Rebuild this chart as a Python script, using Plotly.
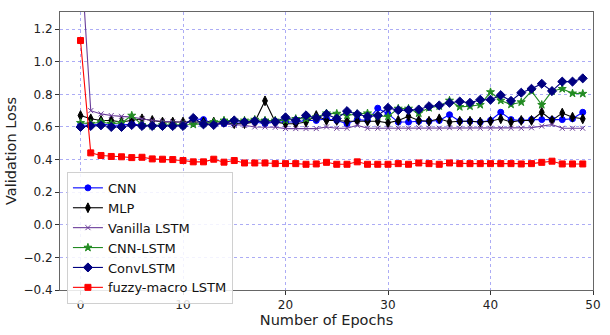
import plotly.graph_objects as go

epochs = list(range(50))

cnn = [0.61, 0.61, 0.62, 0.61, 0.61, 0.62, 0.61, 0.61, 0.61, 0.61,
       0.61, 0.65, 0.645, 0.62, 0.62, 0.62, 0.63, 0.63, 0.62, 0.63,
       0.63, 0.63, 0.64, 0.64, 0.65, 0.64, 0.62, 0.645, 0.64, 0.715,
       0.68, 0.63, 0.63, 0.635, 0.635, 0.64, 0.675, 0.635, 0.635, 0.63,
       0.64, 0.69, 0.645, 0.64, 0.645, 0.645, 0.645, 0.645, 0.65, 0.69]

mlp = [0.67, 0.65, 0.64, 0.64, 0.63, 0.64, 0.65, 0.64, 0.63, 0.63,
       0.63, 0.63, 0.63, 0.63, 0.63, 0.62, 0.62, 0.63, 0.76, 0.63,
       0.62, 0.62, 0.63, 0.67, 0.64, 0.64, 0.635, 0.635, 0.635, 0.635,
       0.625, 0.64, 0.665, 0.64, 0.635, 0.65, 0.63, 0.635, 0.635, 0.63,
       0.635, 0.65, 0.63, 0.64, 0.64, 0.69, 0.64, 0.685, 0.66, 0.65]

vanilla_lstm = [1.70, 0.70, 0.68, 0.67, 0.665, 0.66, 0.65, 0.64, 0.635, 0.632,
                0.628, 0.622, 0.62, 0.618, 0.616, 0.61, 0.61, 0.60, 0.60, 0.598,
                0.59, 0.59, 0.59, 0.59, 0.60, 0.592, 0.592, 0.61, 0.592, 0.592,
                0.592, 0.592, 0.592, 0.595, 0.592, 0.592, 0.595, 0.592, 0.592, 0.592,
                0.592, 0.592, 0.592, 0.592, 0.595, 0.605, 0.615, 0.592, 0.592, 0.592]

cnn_lstm = [0.625, 0.62, 0.63, 0.62, 0.625, 0.67, 0.612, 0.607, 0.612, 0.612,
            0.612, 0.615, 0.62, 0.63, 0.64, 0.64, 0.64, 0.645, 0.64, 0.64,
            0.64, 0.65, 0.65, 0.66, 0.684, 0.682, 0.67, 0.68, 0.684, 0.668,
            0.664, 0.713, 0.713, 0.684, 0.717, 0.728, 0.762, 0.723, 0.727, 0.736,
            0.814, 0.762, 0.738, 0.752, 0.82, 0.736, 0.82, 0.834, 0.806, 0.804]

conv_lstm = [0.60, 0.606, 0.61, 0.60, 0.60, 0.612, 0.606, 0.606, 0.606, 0.606,
             0.606, 0.655, 0.616, 0.612, 0.626, 0.64, 0.63, 0.636, 0.63, 0.632,
             0.659, 0.64, 0.671, 0.655, 0.678, 0.651, 0.697, 0.678, 0.664, 0.670,
             0.717, 0.703, 0.703, 0.707, 0.727, 0.732, 0.748, 0.756, 0.748, 0.767,
             0.767, 0.795, 0.76, 0.81, 0.834, 0.865, 0.82, 0.878, 0.878, 0.898]

fuzzy_macro_lstm = [1.13, 0.441, 0.425, 0.419, 0.417, 0.412, 0.414, 0.404, 0.402, 0.400,
                    0.394, 0.386, 0.386, 0.402, 0.384, 0.394, 0.379, 0.379, 0.379, 0.375,
                    0.375, 0.375, 0.371, 0.373, 0.383, 0.371, 0.371, 0.386, 0.371, 0.371,
                    0.371, 0.375, 0.371, 0.379, 0.375, 0.371, 0.379, 0.375, 0.375, 0.375,
                    0.375, 0.375, 0.375, 0.373, 0.375, 0.383, 0.390, 0.373, 0.373, 0.373]

series = [
    ("CNN", cnn, "#0000ff", "circle", 6),
    ("MLP", mlp, "#000000", "diamond-tall", 7),
    ("Vanilla LSTM", vanilla_lstm, "#6a3d9a", "x-thin-open", 5),
    ("CNN-LSTM", cnn_lstm, "#228b22", "star", 6),
    ("ConvLSTM", conv_lstm, "#000080", "diamond", 7),
    ("fuzzy-macro LSTM", fuzzy_macro_lstm, "#ff0000", "square", 6),
]

fig = go.Figure()
for name, vals, color, sym, size in series:
    fig.add_trace(go.Scatter(
        x=epochs, y=vals, name=name, mode="lines+markers",
        line=dict(color=color, width=1.1),
        marker=dict(symbol=sym, size=size, color=color,
                    line=dict(color=color, width=1)),
        cliponaxis=True,
    ))

grid = dict(showgrid=True, gridcolor="rgba(90,90,235,0.5)", griddash="dot", gridwidth=1)
fig.update_layout(
    width=610, height=335,
    margin=dict(l=60, r=9, t=12, b=32),
    plot_bgcolor="white", paper_bgcolor="white",
    font=dict(family="DejaVu Sans", size=12, color="#222"),
    showlegend=True,
    legend=dict(x=0.013, y=-0.05, xanchor="left", yanchor="bottom",
                bgcolor="rgba(255,255,255,0.85)", bordercolor="#d0d0d0", borderwidth=1,
                font=dict(size=13, color="#111"), tracegroupgap=0,
                itemwidth=30),
    xaxis=dict(range=[-2, 50], tickvals=[0, 10, 20, 30, 40, 50], zeroline=False,
               showline=True, linecolor="#666", linewidth=1, mirror=True,
               ticks="outside", ticklen=4, tickcolor="#333",
               title=dict(text="Number of Epochs", font=dict(size=14.5), standoff=3),
               **grid),
    yaxis=dict(range=[-0.4, 1.305], tickvals=[-0.4, -0.2, 0, 0.2, 0.4, 0.6, 0.8, 1.0, 1.2],
               tickformat=".1f", zeroline=False,
               showline=True, linecolor="#666", linewidth=1, mirror=True,
               ticks="outside", ticklen=4, tickcolor="#333",
               title=dict(text="Validation Loss", font=dict(size=14.5), standoff=3),
               **grid),
)
fig.write_html("out.html")
